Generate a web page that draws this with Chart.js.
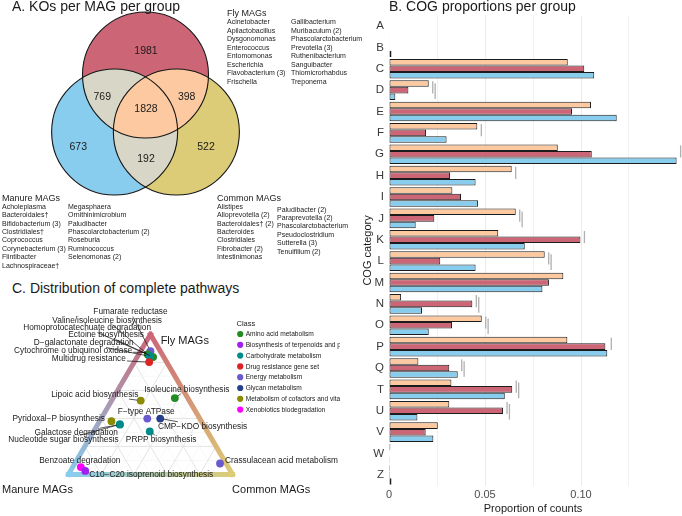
<!DOCTYPE html>
<html lang="en">
<head>
  <meta charset="UTF-8">
  <title>KOs, COG proportions and complete pathways per MAG group</title>
  <script src="https://cdn.jsdelivr.net/npm/chart.js@4.4.0/dist/chart.umd.min.js"></script>
  <style>
    body { margin: 0; width: 682px; height: 516px; background: #fff; position: relative; overflow: hidden;
           font-family: "Liberation Sans", Arial, sans-serif; color: #1a1a1a; }
    canvas { position: absolute; }
    .title { position: absolute; font-size: 14px; line-height: 14px; white-space: nowrap; }
    .grp { position: absolute; font-size: 9px; line-height: 9px; white-space: nowrap; color: #222; }
    .taxa { position: absolute; font-size: 7px; line-height: 8.4px; white-space: nowrap; color: #222; }
  </style>
</head>
<body>

<canvas id="venn" width="290" height="205" style="left:0;top:0"></canvas>
<canvas id="cog" width="342" height="516" style="left:340px;top:0"></canvas>
<canvas id="tern" width="340" height="216" style="left:0;top:300px"></canvas>

<!-- titles -->
<div class="title" style="left:12px;top:-1px">A. KOs per MAG per group</div>
<div class="title" style="left:389px;top:-1px">B. COG proportions per group</div>
<div class="title" style="left:12px;top:281px">C. Distribution of complete pathways</div>

<!-- taxa per group -->
<div class="grp" style="left:227px;top:9px">Fly MAGs</div>
<div class="taxa" style="left:227px;top:18px;line-height:8.5px">Acinetobacter<br>Apilactobacillus<br>Dysgonomonas<br>Enterococcus<br>Entomomonas<br>Escherichia<br>Flavobacterium (3)<br>Frischella</div>
<div class="taxa" style="left:291px;top:18px;line-height:8.5px">Gallibacterium<br>Muribaculum (2)<br>Phascolarctobacterium<br>Prevotella (3)<br>Ruthenibacterium<br>Sanguibacter<br>Thiomicrorhabdus<br>Treponema</div>

<div class="grp" style="left:2px;top:194px">Manure MAGs</div>
<div class="taxa" style="left:2px;top:202.7px">Acholeplasma<br>Bacteroidales†<br>Bifidobacterium (3)<br>Clostridiales†<br>Coprococcus<br>Corynebacterium (3)<br>Flintibacter<br>Lachnospiraceae†</div>
<div class="taxa" style="left:68px;top:202.7px">Megasphaera<br>Ornithinimicrobium<br>Paludibacter<br>Phascolarctobacterium (2)<br>Roseburia<br>Ruminococcus<br>Selenomonas (2)</div>

<div class="grp" style="left:217px;top:194px">Common MAGs</div>
<div class="taxa" style="left:217px;top:202.7px">Alistipes<br>Alloprevotella (2)<br>Bacteroidales† (2)<br>Bacteroides<br>Clostridiales<br>Fibrobacter (2)<br>Intestinimonas</div>
<div class="taxa" style="left:277px;top:205.5px">Paludibacter (2)<br>Paraprevotella (2)<br>Phascolarctobacterium<br>Pseudoclostridium<br>Sutterella (3)<br>Tenuifilium (2)</div>

<script>
const FONT = '"Liberation Sans", Arial, sans-serif';

// ---------- A. Venn: KOs per group ----------
const vennSets = ['Fly MAGs', 'Manure MAGs', 'Common MAGs'];
const vennSetColors = ['#CC6677', '#88CCEE', '#DDCC77'];
const vennRegions = ['Fly', 'Manure', 'Common', 'Fly+Manure', 'Fly+Common', 'Manure+Common', 'All'];
const vennCounts = [1981, 673, 522, 769, 398, 192, 1828];

// circle layout in units of one radius
const vennCenterX = [0, -0.49, 0.49];
const vennCenterY = [0.905, 0, 0];
const vennLabelX = [0.008, -1.067, 0.96, -0.686, 0.654, 0.008, 0.008];
const vennLabelY = [1.286, -0.233, -0.233, 0.56, 0.56, -0.429, 0.365];
const greyOverlap = '#D8D7C7';
const peachOverlap = '#FDC9A0';

// ---------- B. COG proportions ----------
const cogCategories = ['A','B','C','D','E','F','G','H','I','J','K','L','M','N','O','P','Q','T','U','V','W','Z'];
const commonProp = [0.0003,0.0002,0.0931,0.0207,0.1052,0.0460,0.0879,0.0639,0.0330,0.0660,0.0569,0.0811,0.0908,0.0063,0.0483,0.0929,0.0153,0.0325,0.0314,0.0254,0.0007,0.0005];
const flyProp    = [0.0003,0.0002,0.1017,0.0101,0.0953,0.0193,0.1056,0.0318,0.0375,0.0236,0.0997,0.0267,0.0833,0.0434,0.0328,0.1127,0.0314,0.0642,0.0594,0.0191,0.0003,0.0005];
const manureProp = [0.0002,0.0013,0.1069,0.0033,0.1186,0.0300,0.1498,0.0451,0.0464,0.0139,0.0707,0.0451,0.0799,0.0172,0.0207,0.1137,0.0358,0.0603,0.0148,0.0231,0.0001,0.0013];
// number of significance marks drawn right of each group
const sigMarks   = [0,0,0,2,0,1,2,1,0,2,1,2,0,2,2,1,2,2,2,0,0,0];
const xTickLabels = ['0', '0.05', '0.10'];

// ---------- C. ternary: complete pathways ----------
const pathwayClasses = ['Amino acid metabolism', 'Biosynthesis of terpenoids and polyketides', 'Carbohydrate metabolism',
  'Drug resistance gene set', 'Energy metabolism', 'Glycan metabolism', 'Metabolism of cofactors and vitamins',
  'Xenobiotics biodegradation'];
const classColors = ['#228B22', '#A020F0', '#008B8B', '#DD2222', '#6A5ACD', '#27408B', '#8B8B00', '#FF00FF'];
const pathwayNames = ['Homoprotocatechuate degradation', 'Cytochrome o ubiquinol oxidase', 'Fumarate reductase',
  'Valine/isoleucine biosynthesis', 'Ectoine biosynthesis', 'D\u2212galactonate degradation', 'Multidrug resistance',
  'Lipoic acid biosynthesis', 'Isoleucine biosynthesis', 'F\u2212type ATPase', 'CMP\u2212KDO biosynthesis',
  'Pyridoxal\u2212P biosynthesis', 'Galactose degradation', 'Nucleotide sugar biosynthesis', 'PRPP biosynthesis',
  'Benzoate degradation', 'C10\u2212C20 isoprenoid biosynthesis', 'Crassulacean acid metabolism'];
const pathwayClass = [7, 4, 4, 0, 0, 2, 3, 6, 0, 4, 5, 6, 2, 2, 2, 7, 1, 4];
const flyShare    = [0.850, 0.870, 0.880, 0.857, 0.838, 0.843, 0.802, 0.527, 0.545, 0.399, 0.399, 0.380, 0.357, 0.357, 0.307, 0.053, 0.025, 0.078];
const manureShare = [0.080, 0.070, 0.060, 0.088, 0.065, 0.083, 0.107, 0.296, 0.079, 0.320, 0.241, 0.548, 0.508, 0.508, 0.351, 0.898, 0.885, 0.037];
const commonShare = [0.070, 0.060, 0.060, 0.055, 0.097, 0.074, 0.091, 0.177, 0.376, 0.281, 0.360, 0.072, 0.135, 0.135, 0.342, 0.049, 0.090, 0.885];
// label placement (pixels from the point)
const labelDx = [-62.5, -76.5, -20, -40.6, -47, -66, -60.4, -46, 12, -1, 42.3, -52.7, -43.7, -56.4, 11.4, -1, 66, 61.5];
const labelDy = [-27.3, -1.4, -39, -34, -22, -13.3, -3, -6, -8.7, -7.3, 7.7, -2.7, 8.3, 15.3, 8, -6.6, 4, -2.4];

const SQ3 = Math.sqrt(3) / 2;
const ternXY = (fly, common) => ({ x: common + fly / 2, y: fly * SQ3 });

const baseOpts = {
  responsive: false, animation: false, events: [],
  layout: { padding: 0 },
  plugins: { legend: { display: false }, tooltip: { enabled: false } }
};

// ---- Venn chart ----
const vennPlugin = {
  id: 'vennCircles',
  beforeDatasetsDraw(chart) {
    const { ctx, scales: { x, y } } = chart;
    const circ = vennCenterX.map((cx, i) => ({
      x: x.getPixelForValue(cx), y: y.getPixelForValue(vennCenterY[i]),
      r: x.getPixelForValue(1) - x.getPixelForValue(0)
    }));
    const path = c => { ctx.beginPath(); ctx.arc(c.x, c.y, c.r, 0, Math.PI * 2); };
    ctx.save();
    circ.forEach((c, i) => { path(c); ctx.fillStyle = vennSetColors[i]; ctx.fill(); });
    [[0, 1, greyOverlap], [0, 2, peachOverlap], [1, 2, greyOverlap]].forEach(([a, b, col]) => {
      ctx.save(); path(circ[a]); ctx.clip(); path(circ[b]); ctx.fillStyle = col; ctx.fill(); ctx.restore();
    });
    ctx.save(); path(circ[0]); ctx.clip(); path(circ[1]); ctx.clip();
    path(circ[2]); ctx.fillStyle = peachOverlap; ctx.fill(); ctx.restore();
    ctx.lineWidth = 1.1; ctx.strokeStyle = '#151515';
    circ.forEach(c => { path(c); ctx.stroke(); });
    ctx.restore();
  },
  afterDatasetsDraw(chart) {
    const { ctx } = chart;
    ctx.save();
    ctx.font = '10.5px ' + FONT; ctx.fillStyle = '#1a1a1a';
    ctx.textAlign = 'center'; ctx.textBaseline = 'middle';
    chart.getDatasetMeta(1).data.forEach((pt, i) => ctx.fillText(String(vennCounts[i]), pt.x, pt.y));
    ctx.restore();
  }
};

new Chart(document.getElementById('venn'), {
  type: 'scatter',
  data: { datasets: [
    { label: 'sets', data: vennCenterX.map((v, i) => ({ x: v, y: vennCenterY[i] })), pointRadius: 0 },
    { label: 'regions', data: vennLabelX.map((v, i) => ({ x: v, y: vennLabelY[i] })), pointRadius: 0 }
  ] },
  options: { ...baseOpts,
    scales: { x: { display: false, min: -2.3095, max: 2.2937 }, y: { display: false, min: -1.1587, max: 2.0952 } } },
  plugins: [vennPlugin]
});

// ---- COG bar chart ----
const sigPlugin = {
  id: 'sigMarks',
  afterDatasetsDraw(chart) {
    const { ctx } = chart;
    const metas = [0, 1, 2].map(d => chart.getDatasetMeta(d).data);
    ctx.save();
    ctx.strokeStyle = '#b0b0b0'; ctx.lineWidth = 1.3;
    sigMarks.forEach((n, i) => {
      if (!n) return;
      const bars = metas.map(m => m[i]);
      const xMax = Math.max(...bars.map(b => b.x));
      for (let k = 0; k < n; k++) {
        const x = xMax + 4 + k * 2.4;
        const y0 = bars[0].y - bars[0].height / 2 + (k ? 3 : 1);
        const y1 = k ? bars[2].y + bars[2].height / 2 - 1 : bars[1].y + bars[1].height / 2;
        ctx.beginPath(); ctx.moveTo(x, y0); ctx.lineTo(x, y1); ctx.stroke();
      }
    });
    ctx.restore();
  }
};

const barStyle = { borderWidth: 1, borderColor: '#1c1c1c', borderSkipped: false, categoryPercentage: 0.92, barPercentage: 1 };

new Chart(document.getElementById('cog'), {
  type: 'bar',
  data: {
    labels: cogCategories,
    datasets: [
      { label: 'Common MAGs', data: commonProp, backgroundColor: '#FDC9A0', ...barStyle },
      { label: 'Fly MAGs', data: flyProp, backgroundColor: '#CC6677', ...barStyle },
      { label: 'Manure MAGs', data: manureProp, backgroundColor: '#88CCEE', ...barStyle }
    ]
  },
  options: { ...baseOpts,
    indexAxis: 'y',
    layout: { padding: { top: 15.3, right: 5, left: 0, bottom: 0 } },
    scales: {
      x: {
        min: 0, max: 0.15,
        afterFit: s => { s.height = 30.4; },
        border: { display: false },
        grid: { drawTicks: false, color: c => (c.tick && c.tick.value > 0 && c.tick.value < 0.149) ? '#ebebeb' : 'rgba(0,0,0,0)',
                lineWidth: c => (c.tick && Math.round(c.tick.value * 1000) % 50 === 0) ? 1 : 0.7 },
        ticks: { stepSize: 0.025, autoSkip: false, maxRotation: 0, padding: 3, color: '#4d4d4d', font: { family: FONT, size: 11 },
                 callback: v => { const k = Math.round(v * 1000); return (k % 50 === 0 && k / 50 < xTickLabels.length) ? xTickLabels[k / 50] : ''; } },
        title: { display: true, text: 'Proportion of counts', color: '#1a1a1a', font: { family: FONT, size: 11 }, padding: { top: 0, bottom: 0 } }
      },
      y: {
        afterFit: s => { s.width = 49; },
        border: { display: false },
        grid: { display: false, drawTicks: false },
        ticks: { padding: 5, color: '#3a3a3a', font: { family: FONT, size: 11.5 } },
        title: { display: true, text: 'COG category', color: '#1a1a1a', font: { family: FONT, size: 11 }, padding: { top: 21, bottom: 0 } }
      }
    }
  },
  plugins: [sigPlugin]
});

// ---- ternary chart ----
const ternaryPlugin = {
  id: 'ternaryFrame',
  beforeDatasetsDraw(chart) {
    const { ctx, scales: { x, y } } = chart;
    const P = (fly, common) => { const p = ternXY(fly, common); return [x.getPixelForValue(p.x), y.getPixelForValue(p.y)]; };
    ctx.save();
    // grid
    for (let k = 1; k < 10; k++) {
      const f = k / 10;
      ctx.strokeStyle = k % 2 ? '#f3f3f3' : '#e4e4e4';
      ctx.lineWidth = k % 2 ? 0.6 : 1;
      [[P(f, 0), P(f, 1 - f)], [P(0, f), P(1 - f, f)], [P(0, 1 - f), P(1 - f, 0)]].forEach(([a, b]) => {
        ctx.beginPath(); ctx.moveTo(a[0], a[1]); ctx.lineTo(b[0], b[1]); ctx.stroke();
      });
    }
    // coloured frame: fly (apex), manure (left), common (right)
    const V = [P(1, 0), P(0, 0), P(0, 1)];
    const cols = [vennSetColors[0], vennSetColors[1], vennSetColors[2]];
    ctx.lineWidth = 5; ctx.lineCap = 'square';
    [[0, 1], [1, 2], [2, 0]].forEach(([a, b]) => {
      const g = ctx.createLinearGradient(V[a][0], V[a][1], V[b][0], V[b][1]);
      g.addColorStop(0, cols[a]); g.addColorStop(1, cols[b]);
      ctx.strokeStyle = g;
      ctx.beginPath(); ctx.moveTo(V[a][0], V[a][1]); ctx.lineTo(V[b][0], V[b][1]); ctx.stroke();
    });
    // vertex names
    ctx.fillStyle = '#1a1a1a'; ctx.font = '11px ' + FONT;
    ctx.textAlign = 'center'; ctx.textBaseline = 'middle';
    ctx.fillText(vennSets[0], V[0][0] + 34.3, V[0][1] + 6.2);
    ctx.fillText(vennSets[1], V[1][0] - 31, V[1][1] + 15.3);
    ctx.fillText(vennSets[2], V[2][0] + 38.7, V[2][1] + 15.3);
    ctx.restore();
  },
  afterDatasetsDraw(chart) {
    const { ctx } = chart;
    const pts = chart.getDatasetMeta(0).data;
    ctx.save();
    ctx.font = '8.3px ' + FONT; ctx.textAlign = 'center'; ctx.textBaseline = 'middle';
    pts.forEach((pt, i) => {
      const lx = pt.x + labelDx[i], ly = pt.y + labelDy[i];
      const w = ctx.measureText(pathwayNames[i]).width / 2 + 1, h = 4.5;
      const dx = pt.x - lx, dy = pt.y - ly;
      const t = Math.min(dx ? w / Math.abs(dx) : Infinity, dy ? h / Math.abs(dy) : Infinity);
      if (t < 1) {
        const ex = lx + dx * t, ey = ly + dy * t;
        const len = Math.hypot(pt.x - ex, pt.y - ey);
        if (len > 6) {
          const s = (len - 3.5) / len;
          ctx.strokeStyle = '#111'; ctx.lineWidth = 0.7;
          ctx.beginPath(); ctx.moveTo(ex, ey); ctx.lineTo(ex + (pt.x - ex) * s, ey + (pt.y - ey) * s); ctx.stroke();
        }
      }
      ctx.fillStyle = '#1a1a1a';
      ctx.fillText(pathwayNames[i], lx, ly);
    });
    // legend
    ctx.textAlign = 'left';
    ctx.font = '7.5px ' + FONT;
    ctx.fillText('Class', 236.5, 23.5);
    ctx.font = '6.6px ' + FONT;
    pathwayClasses.forEach((c, i) => {
      const yy = 34 + i * 10.8;
      ctx.fillStyle = classColors[i];
      ctx.beginPath(); ctx.arc(240.2, yy, 3.1, 0, Math.PI * 2); ctx.fill();
      ctx.fillStyle = '#1a1a1a';
      ctx.fillText(c, 245.7, yy + 0.3);
    });
    ctx.restore();
  }
};

new Chart(document.getElementById('tern'), {
  type: 'scatter',
  data: { datasets: [{
    label: 'pathways',
    data: flyShare.map((f, i) => ternXY(f, commonShare[i])),
    backgroundColor: pathwayClass.map(c => classColors[c]),
    borderWidth: 0, pointRadius: 3.9, clip: false
  }] },
  options: { ...baseOpts,
    scales: { x: { display: false, min: -0.3929, max: 1.6310 }, y: { display: false, min: -0.2321, max: 1.0536 } } },
  plugins: [ternaryPlugin]
});
</script>
</body>
</html>
